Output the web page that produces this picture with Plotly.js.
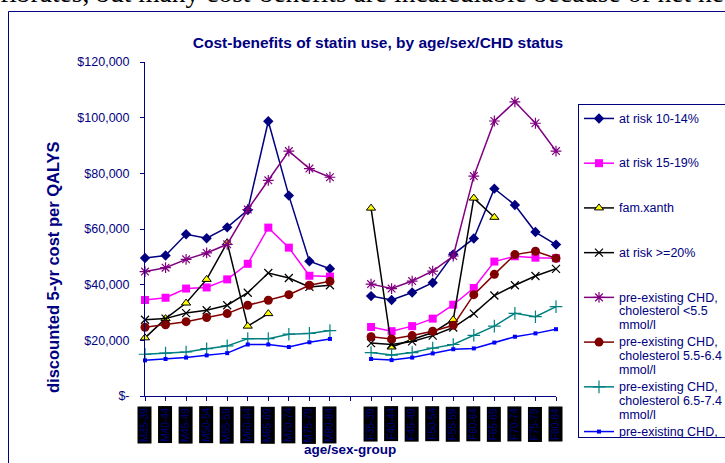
<!DOCTYPE html>
<html>
<head>
<meta charset="utf-8">
<script src="https://cdn.plot.ly/plotly-3.0.1.min.js"></script>
<style>html,body{margin:0;padding:0;background:#fff;overflow:hidden}#chart{width:725px;height:463px}</style>
</head>
<body>
<div id="chart"></div>
<script>
// ---- data ----
const categories = ['M35-39','M40-44','M45-49','M50-54','M55-59','M60-64','M65-69','M70-74','M75-79','M80-84','',
  'F35-39','F40-44','F45-49','F50-54','F55-59','F60-64','F65-69','F70-74','F75-79','F80-84'];
const seriesNames = ['at risk 10-14%','at risk 15-19%','fam.xanth','at risk &gt;=20%',
  'pre-existing CHD,<br>cholesterol &lt;5.5<br>mmol/l',
  'pre-existing CHD,<br>cholesterol 5.5-6.4<br>mmol/l',
  'pre-existing CHD,<br>cholesterol 6.5-7.4<br>mmol/l',
  'pre-existing CHD,<br>cholesterol &gt;=7.5<br>mmol/l'];
const risk10_14 = [49600,50500,58100,56700,60600,66800,98700,72000,48400,45700,null,35900,34500,37200,40700,50900,56600,74500,68600,58900,54400];
const risk15_19 = [34500,35300,38600,39000,41900,47500,60500,53300,43200,42900,null,24800,23300,25100,27800,32800,38800,48300,50200,49700,49500];
const famXanth  = [20900,27800,33400,41900,55100,25100,29600,null,null,null,null,67500,17600,20300,22800,27400,71100,64200,null,null,null];
const risk20    = [27400,27800,29800,30800,32600,37100,44200,42400,39200,39800,null,19000,18500,19600,21700,24600,29600,36100,39800,43100,45700];
const chdLt55   = [44700,46100,49100,51400,54500,67000,77500,88000,81700,78600,null,40200,38600,41300,44900,50300,79000,98800,105700,98000,88000];
const chd55_64  = [24700,25600,26700,28200,29600,32600,34400,36400,39800,41200,null,21300,20500,21700,23300,25400,36400,43700,50800,52000,49500];
const chd65_74  = [15000,15400,15800,17000,18000,20600,20600,22200,22500,23500,null,15600,14700,15600,17200,18500,21800,25100,29700,28500,32100];
const chdGe75   = [12800,13300,13800,14600,15400,18500,18500,17600,19300,20500,null,13300,12900,13800,15300,16800,17100,19200,21300,22500,24000];
const yTickVals = [0,20000,40000,60000,80000,100000,120000];
const yTickText = ['$-','$20,000','$40,000','$60,000','$80,000','$100,000','$120,000'];

// ---- styling ----
const NAVY = '#000080';
const FONT = 'Arial, "Liberation Sans", sans-serif';
const xIdx = categories.map((c, i) => i);
const allSeries = [risk10_14, risk15_19, famXanth, risk20, chdLt55, chd55_64, chd65_74, chdGe75];
const styles = [
  {line:'#000080', marker:{symbol:'diamond', size:8, color:'#000080'}},
  {line:'#FF00FF', marker:{symbol:'square', size:8, color:'#FF00FF'}},
  {line:'#000000', marker:{symbol:'triangle-up', size:8, color:'#FFFF00', line:{color:'#000000', width:1}}},
  {line:'#000000', marker:{symbol:'x-thin-open', size:8, color:'#000000', line:{color:'#000000', width:1.2}}},
  {line:'#800080', marker:{symbol:'asterisk-open', size:9, color:'#800080', line:{color:'#800080', width:1.2}}},
  {line:'#800000', marker:{symbol:'circle', size:9, color:'#800000'}},
  {line:'#008080', marker:{symbol:'cross-thin-open', size:9, color:'#008080', line:{color:'#008080', width:1.2}}},
  {line:'#0000FF', marker:{symbol:'square', size:4, color:'#0000FF'}}
];
const traces = allSeries.map((vals, k) => {
  const base = seriesNames[k].indexOf('<br>') >= 0 ? seriesNames[k] : seriesNames[k] + '<br>&nbsp;<br>&nbsp;';
  const nm = base.split('<br>').map(s => '<span style="font-size:12.5px">' + s + '</span>').join('<br>');
  return {
    type:'scatter', mode:'lines+markers', x:xIdx, y:vals, name:nm,
    line:{color:styles[k].line, width:1.5}, marker:styles[k].marker,
    cliponaxis:false, hoverinfo:'skip'
  };
});

// plot area pixels: x 145..556, y 62..396
const L = 145, R = 556, T = 62, B = 396, W = 725, H = 463;
const px = v => (v - L) / (R - L);
const py = v => (B - v) / (B - T);

const annotations = categories.map((c, i) => c === '' ? null : ({
  x:i, xref:'x', y:py(406), yref:'paper', xanchor:'center', yanchor:'top',
  text:c, textangle:-90, showarrow:false, bgcolor:'#000000', borderpad:1,
  font:{family:FONT, size:10, color:NAVY}
})).filter(a => a);
annotations.push({
  x:px(350), y:py(449), xref:'paper', yref:'paper', xanchor:'center', yanchor:'middle',
  text:'<b>age/sex-group</b>', showarrow:false, font:{family:FONT, size:13.5, color:NAVY}
});
annotations.push({
  x:px(53), y:py(267), xref:'paper', yref:'paper', xanchor:'center', yanchor:'middle',
  text:'<b>discounted 5-yr cost per QALYS</b>', textangle:-90, showarrow:false,
  font:{family:FONT, size:16.5, color:NAVY}
});
annotations.push({
  x:px(-2), y:py(10), xref:'paper', yref:'paper', xanchor:'left', yanchor:'bottom',
  text:'fibrates, but many cost-benefits are incalculable because of net health', showarrow:false,
  font:{family:'"Liberation Serif", "Times New Roman", serif', size:27.5, color:'#000000'}
});

const layout = {
  width:W, height:H,
  margin:{l:L, r:W - R, t:T, b:H - B, autoexpand:false},
  paper_bgcolor:'#ffffff', plot_bgcolor:'#ffffff',
  showlegend:true,
  title:{text:'<b>Cost-benefits of statin use, by age/sex/CHD status</b>',
    x:px(378), xref:'paper', xanchor:'center', y:1 - 43 / H, yref:'container', yanchor:'middle',
    font:{family:FONT, size:15.5, color:NAVY}},
  xaxis:{range:[0, 20], tickvals:xIdx, showticklabels:false, ticks:'outside', ticklen:4,
    tickcolor:NAVY, showline:true, linecolor:NAVY, linewidth:1, showgrid:false, zeroline:false, fixedrange:true},
  yaxis:{range:[0, 120000], tickvals:yTickVals, ticktext:yTickText, ticks:'outside', ticklen:4,
    tickcolor:NAVY, showline:true, linecolor:NAVY, linewidth:1, showgrid:false, zeroline:false,
    tickfont:{family:FONT, size:12.5, color:NAVY}, ticklabelstandoff:8, fixedrange:true},
  legend:{x:px(578), y:py(104), xref:'paper', yref:'paper', xanchor:'left', yanchor:'top',
    bordercolor:NAVY, borderwidth:1, bgcolor:'#ffffff', tracegroupgap:0, valign:'top',
    font:{family:FONT, size:10.7, color:NAVY}, traceorder:'normal'},
  shapes:[{type:'rect', xref:'paper', yref:'paper', x0:px(8.5), x1:px(760), y0:py(500), y1:py(11.5),
    line:{color:NAVY, width:1}, fillcolor:'rgba(0,0,0,0)', layer:'below'}],
  annotations:annotations
};
Plotly.newPlot('chart', traces, layout, {displayModeBar:false, staticPlot:true});
</script>
</body>
</html>
